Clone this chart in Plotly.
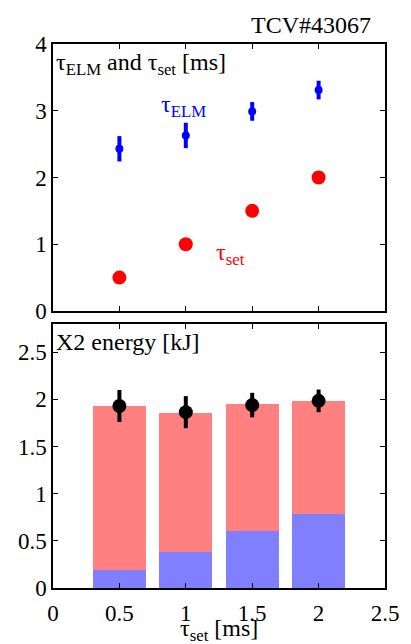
import plotly.graph_objects as go

# ---- data ----
tau_set = [0.5, 1.0, 1.5, 2.0]
tau_elm = [2.43, 2.63, 2.99, 3.31]
tau_elm_err = [0.19, 0.19, 0.14, 0.14]
energy_blue = [0.19, 0.38, 0.60, 0.79]
energy_total = [1.93, 1.86, 1.95, 1.98]
energy_red = [t - b for t, b in zip(energy_total, energy_blue)]
energy_meas = [1.93, 1.865, 1.94, 1.985]
energy_meas_err = [0.17, 0.17, 0.13, 0.12]
y2_ticks = [0, 0.5, 1, 1.5, 2, 2.5]
y2_ticktext = ["0", "0.5", "1", "1.5", "2", "2.5"]

FONT = "Liberation Serif"
FS_TICK = 23
FS = 24

fig = go.Figure()

# top panel
fig.add_trace(go.Scatter(
    x=tau_set, y=tau_elm, mode="markers",
    marker=dict(color="#0000FF", size=8),
    error_y=dict(type="data", array=tau_elm_err, color="#0000FF", thickness=4, width=0),
    xaxis="x", yaxis="y", showlegend=False))
fig.add_trace(go.Scatter(
    x=tau_set, y=tau_set, mode="markers",
    marker=dict(color="#FF0000", size=14),
    xaxis="x", yaxis="y", showlegend=False))

# bottom panel: stacked bars
fig.add_trace(go.Bar(
    x=tau_set, y=energy_blue, width=0.4, marker=dict(color="#8080FF", line=dict(width=0)),
    xaxis="x2", yaxis="y2", showlegend=False))
fig.add_trace(go.Bar(
    x=tau_set, y=energy_red, width=0.4, marker=dict(color="#FF8080", line=dict(width=0)),
    xaxis="x2", yaxis="y2", showlegend=False))
fig.add_trace(go.Scatter(
    x=tau_set, y=energy_meas, mode="markers",
    marker=dict(color="black", size=14),
    error_y=dict(type="data", array=energy_meas_err, color="black", thickness=4, width=0),
    xaxis="x2", yaxis="y2", showlegend=False))

axis_common = dict(
    showline=True, linecolor="black", linewidth=1.5, mirror="ticks",
    ticks="inside", ticklen=5, tickwidth=1, tickcolor="black",
    showgrid=False, zeroline=False,
    tickfont=dict(family=FONT, size=FS_TICK, color="black"),
)

fig.update_layout(
    width=411, height=644,
    margin=dict(l=53, r=16, t=44, b=56),
    plot_bgcolor="white", paper_bgcolor="white",
    barmode="stack", bargap=0,
    font=dict(family=FONT, size=FS, color="black"),
    xaxis=dict(domain=[0, 1], anchor="y", range=[0, 2.5], dtick=0.5,
               showticklabels=False, **axis_common),
    yaxis=dict(domain=[0.5092, 1], anchor="x", range=[0, 4], dtick=1, **axis_common),
    xaxis2=dict(domain=[0, 1], anchor="y2", range=[0, 2.5],
                tickvals=y2_ticks, ticktext=y2_ticktext, ticklabelstandoff=4,
                **axis_common),
    yaxis2=dict(domain=[0, 0.4853], anchor="x2", range=[0, 2.8],
                tickvals=y2_ticks, ticktext=y2_ticktext, **axis_common),
)

annots = [
    dict(text="TCV#43067", xref="paper", yref="paper", x=0.965, y=1.035,
         xanchor="right", yanchor="middle", showarrow=False,
         font=dict(family=FONT, size=FS, color="black")),
    dict(text="τ<sub>ELM</sub> and τ<sub>set</sub> [ms]", xref="x", yref="y",
         x=0.01, y=3.95, xanchor="left", yanchor="top", showarrow=False,
         font=dict(family=FONT, size=FS, color="black")),
    dict(text="τ<sub>ELM</sub>", xref="x", yref="y", x=0.98, y=3.07,
         xanchor="center", yanchor="middle", showarrow=False,
         font=dict(family=FONT, size=FS, color="#0000FF")),
    dict(text="τ<sub>set</sub>", xref="x", yref="y", x=1.34, y=0.85,
         xanchor="center", yanchor="middle", showarrow=False,
         font=dict(family=FONT, size=FS, color="#FF0000")),
    dict(text="X2 energy [kJ]", xref="x2", yref="y2",
         x=0.01, y=2.77, xanchor="left", yanchor="top", showarrow=False,
         font=dict(family=FONT, size=FS, color="black")),
    dict(text="τ<sub>set</sub> [ms]", xref="paper", yref="paper",
         x=0.5, y=-0.046, xanchor="center", yanchor="top", showarrow=False,
         font=dict(family=FONT, size=FS, color="black")),
]
fig.update_layout(annotations=annots)

fig.write_html("out.html")
